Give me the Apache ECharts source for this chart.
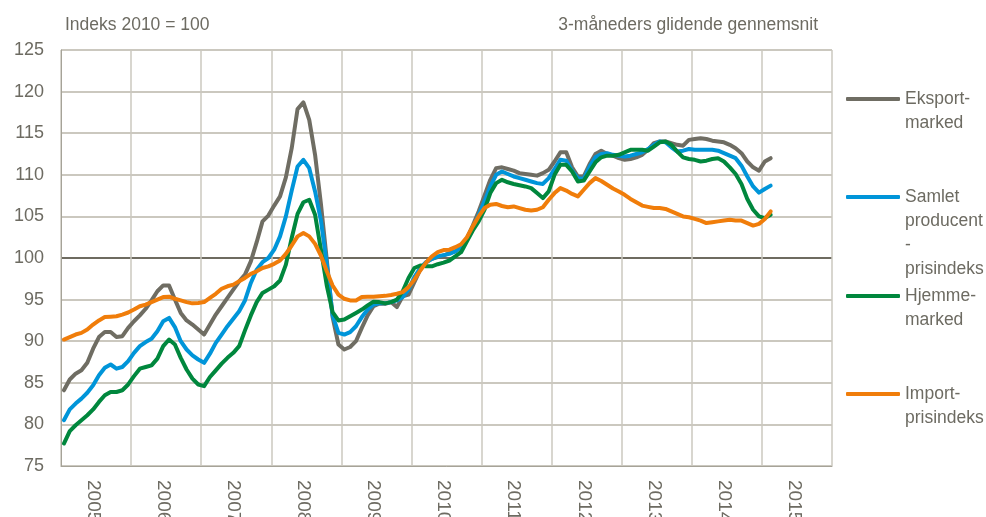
<!DOCTYPE html>
<html>
<head>
<meta charset="utf-8">
<script src="https://cdn.jsdelivr.net/npm/echarts@6/dist/echarts.min.js"></script>
<style>
  html, body { margin: 0; padding: 0; background: #fff; }
  #chart { width: 986px; height: 517px; }
</style>
</head>
<body>
<div id="chart"></div>
<script>
// years on the x axis, one column per year, monthly points
const years = ['2005', '2006', '2007', '2008', '2009', '2010', '2011', '2012', '2013', '2014', '2015']
const yTicks = [75, 80, 85, 90, 95, 100, 105, 110, 115, 120, 125]

// 3-month moving average, index 2010 = 100, Jan 2005 .. Feb 2015
const eksport = [
  84.1, 85.4, 86.1, 86.5, 87.4, 89.1, 90.5, 91.1, 91.1, 90.5, 90.6, 91.6,
  92.4, 93.1, 93.9, 94.9, 96.0, 96.7, 96.7, 95.0, 93.4, 92.5, 92.0, 91.4,
  90.8, 92.0, 93.2, 94.2, 95.2, 96.2, 97.2, 98.0, 99.6, 101.9, 104.4, 105.1,
  106.3, 107.4, 109.7, 113.2, 117.9, 118.7, 116.6, 112.4, 106.5, 99.8, 92.9, 89.6,
  89.0, 89.3, 90.0, 91.6, 93.1, 94.2, 94.5, 94.5, 94.7, 94.1, 95.4, 95.6,
  97.1, 98.6, 99.5, 99.9, 100.1, 100.3, 100.6, 100.8, 101.3, 102.4, 103.9, 105.6,
  107.5, 109.4, 110.8, 110.9, 110.7, 110.5, 110.2, 110.1, 110.0, 109.9, 110.2, 110.6,
  111.6, 112.7, 112.7, 110.9, 109.8, 109.8, 111.3, 112.5, 112.9, 112.5, 112.3, 112.0,
  111.8, 111.9, 112.1, 112.4, 113.0, 113.8, 114.0, 114.0, 113.8, 113.6, 113.5, 114.2,
  114.3, 114.4, 114.3, 114.1, 114.0, 113.9, 113.6, 113.2, 112.6, 111.6, 110.9, 110.5,
  111.6, 112.0
]
const samlet = [
  80.5, 81.8, 82.5, 83.1, 83.8, 84.7, 85.9, 86.8, 87.2, 86.7, 86.9, 87.6,
  88.6, 89.4, 89.9, 90.3, 91.2, 92.4, 92.8, 91.7, 90.0, 89.0, 88.3, 87.8,
  87.4, 88.5, 89.8, 90.8, 91.8, 92.7, 93.6, 94.9, 97.0, 98.6, 99.5, 100.0,
  101.0, 102.6, 105.0, 108.1, 111.0, 111.8, 110.8, 108.0, 104.5, 99.3, 93.1, 91.0,
  90.8, 91.1, 91.8, 92.9, 93.8, 94.4, 94.55, 94.55, 94.7, 94.9, 95.3, 96.2,
  97.7, 98.8, 99.5, 99.9, 100.2, 100.35, 100.5, 100.8, 101.3, 102.2, 103.6, 105.2,
  106.8, 108.6, 110.0, 110.4, 110.1, 109.8, 109.6, 109.4, 109.2, 109.0, 108.9, 109.6,
  110.7, 111.8, 111.7, 110.5, 109.6, 109.5, 111.0, 112.1, 112.5, 112.6, 112.4, 112.3,
  112.2, 112.3, 112.5, 112.7, 113.1, 113.6, 114.0, 113.9, 113.3, 112.8, 112.9, 113.1,
  113.0, 113.0, 113.0, 113.0, 112.9, 112.6, 112.3, 112.0, 111.1, 109.8, 108.6, 107.85,
  108.3, 108.7
]
const hjemme = [
  77.7, 79.2, 79.9, 80.5, 81.1, 81.8, 82.7, 83.5, 83.9, 83.9, 84.1, 84.8,
  85.8, 86.7, 86.9, 87.1, 87.9, 89.4, 90.2, 89.6, 88.0, 86.6, 85.5, 84.8,
  84.6, 85.7, 86.5, 87.3, 88.0, 88.6, 89.4, 91.3, 93.1, 94.7, 95.8, 96.2,
  96.6, 97.3, 99.2, 102.4, 105.3, 106.7, 107.0, 105.2, 101.0, 96.7, 93.5, 92.5,
  92.6, 93.0, 93.4, 93.8, 94.3, 94.75, 94.7, 94.55, 94.7, 95.0, 96.0, 97.6,
  98.8, 99.1, 99.0, 99.0, 99.25, 99.45, 99.7, 100.2, 100.7, 102.0, 103.3, 104.4,
  105.8, 107.8, 109.0, 109.4, 109.1, 108.9, 108.75, 108.6, 108.4, 107.8, 107.2, 108.0,
  110.0, 111.2, 111.2, 110.4, 109.2, 109.3, 110.4, 111.5, 112.1, 112.3, 112.3, 112.4,
  112.7, 113.0, 113.0, 113.0, 112.9, 113.4, 113.9, 114.0, 113.6, 112.8, 112.1, 111.9,
  111.8, 111.6, 111.7, 111.9, 112.0, 111.6, 110.9, 110.1, 108.9, 107.1, 105.8, 105.0,
  104.8, 105.2
]
const importPris = [
  90.2, 90.5, 90.8, 91.0, 91.4, 92.0, 92.5, 92.9, 92.95, 93.0, 93.2, 93.45,
  93.8, 94.2, 94.4, 94.7, 95.0, 95.3, 95.35, 95.1, 94.9, 94.7, 94.55, 94.6,
  94.7, 95.2, 95.7, 96.3, 96.6, 96.8, 97.2, 97.6, 98.1, 98.4, 98.8, 99.0,
  99.3, 99.7, 100.5, 101.5, 102.6, 103.0, 102.6, 101.7, 100.3, 98.4, 96.7, 95.6,
  95.1, 94.9, 94.9, 95.3, 95.35, 95.35, 95.4, 95.45, 95.55, 95.7, 95.9, 96.5,
  97.4, 98.5, 99.45, 100.2, 100.7, 100.95, 101.0, 101.3, 101.65, 102.5, 103.8, 105.0,
  106.0, 106.4, 106.5, 106.25, 106.1, 106.2, 106.0, 105.8, 105.7, 105.8, 106.1, 107.0,
  107.8, 108.4, 108.1, 107.7, 107.4, 108.2, 109.0, 109.6, 109.25, 108.8, 108.35, 108.0,
  107.6, 107.1, 106.7, 106.3, 106.15, 106.0, 106.0, 105.9, 105.6, 105.3, 105.0, 104.9,
  104.7, 104.5, 104.2, 104.3, 104.4, 104.5, 104.6, 104.5, 104.5, 104.2, 103.9, 104.1,
  104.7, 105.6
]

const names = ['Eksport-\nmarked', 'Samlet\nproducent\n-\nprisindeks', 'Hjemme-\nmarked', 'Import-\nprisindeks']
const colors = ['#6f6d63', '#0095d9', '#00873d', '#f07d0a']

// month categories, 12 per year
const months = []
years.forEach(function (y) {
  for (let m = 1; m <= 12; m++) months.push(y + '-' + (m < 10 ? '0' + m : m))
})

const font = "'Liberation Sans', Arial, sans-serif"
const textColor = '#6d6b62'
const gridColor = '#cbc8bf'

// the 100 line is drawn darker than the other gridlines
const splitColors = yTicks.map(function (v) { return v === 100 ? '#6e6b60' : gridColor })

function legendAt (name, top, lines) {
  return {
    data: [name],
    left: 846,
    top: top,
    padding: 0,
    icon: 'roundRect',
    itemWidth: 54,
    itemHeight: 4,
    selectedMode: false,
    // blank lines in front so the icon sits level with the first text line
    formatter: function (n) { return '\n'.repeat(lines - 1) + n },
    textStyle: { fontFamily: font, fontSize: 17.5, lineHeight: 24, color: textColor }
  }
}

let myChart = echarts.init(document.getElementById('chart'))

let option = {
  animation: false,
  title: [
    { text: 'Indeks 2010 = 100', left: 65, top: 16, padding: 0,
      textStyle: { fontFamily: font, fontSize: 17.5, fontWeight: 'normal', color: textColor } },
    { text: '3-måneders glidende gennemsnit', right: 168, top: 16, padding: 0,
      textStyle: { fontFamily: font, fontSize: 17.5, fontWeight: 'normal', color: textColor } }
  ],
  legend: [
    legendAt(names[0], 63, 2),
    legendAt(names[1], 113, 4),
    legendAt(names[2], 260, 2),
    legendAt(names[3], 358, 2)
  ],
  grid: { left: 61, top: 50, right: 154, bottom: 51, outerBoundsMode: 'none' },
  xAxis: {
    type: 'category',
    data: months,
    boundaryGap: true,
    axisLine: { show: true, lineStyle: { color: '#a6a398', width: 1 } },
    axisTick: { show: false },
    axisLabel: {
      interval: function (i) { return i % 12 === 5 },
      formatter: function (v) { return v.slice(0, 4) },
      rotate: -90,
      margin: 14,
      fontFamily: font,
      fontSize: 19,
      color: textColor
    },
    splitLine: { show: true, interval: 11, lineStyle: { color: gridColor, width: 1.5 } }
  },
  yAxis: {
    type: 'value',
    min: 75,
    max: 125,
    interval: 5,
    axisLine: { show: true, lineStyle: { color: '#a6a398', width: 1 } },
    axisTick: { show: false },
    axisLabel: { margin: 17, fontFamily: font, fontSize: 18, color: textColor },
    splitLine: { lineStyle: { color: splitColors, width: 2 } }
  },
  series: [eksport, samlet, hjemme, importPris].map(function (d, k) {
    return {
      name: names[k],
      type: 'line',
      data: d,
      symbol: 'none',
      color: colors[k],
      lineStyle: { width: 4, color: colors[k], join: 'round', cap: 'round' }
    }
  })
}

myChart.setOption(option)
window.addEventListener('resize', function () {
  myChart.resize()
})
</script>
</body>
</html>
